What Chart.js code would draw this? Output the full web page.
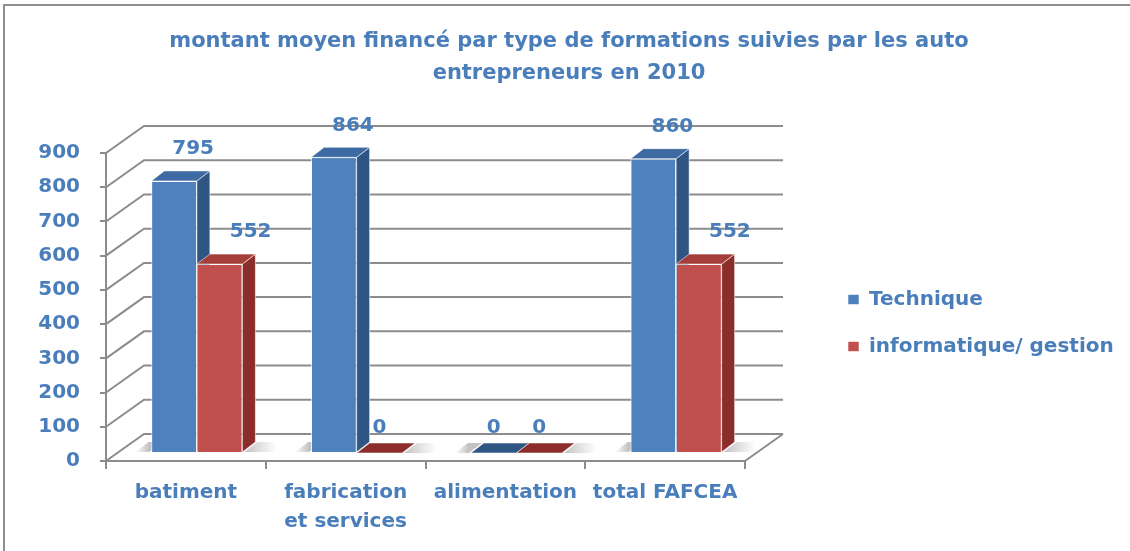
<!DOCTYPE html>
<html>
<head>
<meta charset="utf-8">
<script src="https://cdn.jsdelivr.net/npm/chart.js@4.4.0/dist/chart.umd.min.js"></script>
<style>
    body { margin: 0; background: #fff; }
    #wrap { width: 1130px; height: 551px; position: relative; }
</style>
</head>
<body>
<div id="wrap"><canvas id="chartFormation"></canvas></div>
<script>
const categories = ['batiment', ['fabrication', 'et services'], 'alimentation', 'total FAFCEA']
const technique = [795, 864, 0, 860]
const informatique = [552, 0, 0, 552]
const yTicks = [0, 100, 200, 300, 400, 500, 600, 700, 800, 900]

const textBlue = '#4a7ebb'
const gridGrey = '#8c8c8c'
const palette = [
    { front: '#4f81bd', side: '#2f5584', top: '#3d6aa2' },
    { front: '#c0504d', side: '#8a2d2b', top: '#a53e3b' }
]

// 3d offsets: back wall, plane of the bars, depth of a bar
const back = { x: 38, y: -27 }
const plane = { x: 11, y: -8 }
const depth = { x: 13, y: -10 }

Chart.defaults.font.family = '"DejaVu Sans", sans-serif'

// the right legend gets a quarter of the width left after padding,
// so this puts the front of the plot at x = 745
const padRight = 1130 - 745 * 4 / 3

function poly(ctx, pts, fill) {
    ctx.beginPath()
    ctx.moveTo(pts[0][0], pts[0][1])
    pts.slice(1).forEach(p => ctx.lineTo(p[0], p[1]))
    ctx.closePath()
    ctx.fillStyle = fill
    ctx.fill()
}

function floorShadow(ctx, x0, x1, base) {
    const g = ctx.createLinearGradient(x0, 0, x1, 0)
    g.addColorStop(0, 'rgba(120,120,120,0.45)')
    g.addColorStop(1, 'rgba(120,120,120,0)')
    poly(ctx, [[x0, base], [x0 + depth.x, base + depth.y], [x1 + depth.x, base + depth.y], [x1, base]], g)
}

const plot3d = {
    id: 'plot3d',
    afterLayout(chart) {
        const lg = chart.legend
        lg.left = 821
        lg.right = 1130
        lg.top = 253
        lg.bottom = 393
        const tb = chart.titleBlock
        tb.left = 0
        tb.right = 1138
    },
    beforeDraw(chart) {
        const ctx = chart.ctx
        ctx.save()
        ctx.strokeStyle = '#8f8f8f'
        ctx.lineWidth = 2
        ctx.strokeRect(4, 5, 1200, 700)
        ctx.restore()
    },
    beforeDatasetsDraw(chart) {
        const { ctx, chartArea: a, scales: { y } } = chart
        ctx.save()
        ctx.strokeStyle = gridGrey
        ctx.lineWidth = 2
        ctx.beginPath()
        yTicks.forEach(v => {
            const py = y.getPixelForValue(v)
            ctx.moveTo(a.left, py)
            ctx.lineTo(a.left + back.x, py + back.y)
            ctx.lineTo(a.right + back.x, py + back.y)
        })
        const py0 = y.getPixelForValue(0)
        ctx.moveTo(a.right, py0)
        ctx.lineTo(a.right + back.x, py0 + back.y)
        ctx.stroke()
        ctx.restore()
        ctx.save()
        ctx.translate(plane.x, plane.y)
        // soft shadows on the floor around each pair of bars
        const m0 = chart.getDatasetMeta(0), m1 = chart.getDatasetMeta(1)
        categories.forEach((c, i) => {
            const b0 = m0.data[i], b1 = m1.data[i]
            const l = b0.x - b0.width / 2, r = b1.x + b1.width / 2
            floorShadow(ctx, r + 2, r + 34, b1.base)
            floorShadow(ctx, l - 2, l - 16, b0.base)
        })
    },
    afterDatasetsDraw(chart) {
        const ctx = chart.ctx
        const metas = [chart.getDatasetMeta(0), chart.getDatasetMeta(1)]
        ctx.strokeStyle = 'rgba(255,255,255,0.55)'
        ctx.lineWidth = 1
        categories.forEach((c, i) => {
            metas.forEach((meta, d) => {
                const el = meta.data[i]
                const { x, y, base, width } = el.getProps(['x', 'y', 'base', 'width'], true)
                const l = x - width / 2, r = x + width / 2
                const col = palette[d]
                el.draw(ctx)
                if (base - y > 0.5) {
                    poly(ctx, [[r, base], [r + depth.x, base + depth.y], [r + depth.x, y + depth.y], [r, y]], col.side)
                    ctx.stroke()
                    poly(ctx, [[l, y], [l + depth.x, y + depth.y], [r + depth.x, y + depth.y], [r, y]], col.top)
                    ctx.stroke()
                } else {
                    poly(ctx, [[l, y], [l + depth.x, y + depth.y], [r + depth.x, y + depth.y], [r, y]], col.side)
                    ctx.stroke()
                }
            })
        })
        ctx.font = 'bold 20px "DejaVu Sans"'
        ctx.fillStyle = textBlue
        ctx.textAlign = 'center'
        ctx.textBaseline = 'middle'
        metas.forEach((meta, d) => {
            meta.data.forEach((el, i) => {
                const v = chart.data.datasets[d].data[i]
                const dx = v ? (d ? 31 : 19) : 0
                const dy = v ? -32 : -25
                ctx.fillText(String(v), el.x + dx, el.y + dy)
            })
        })
        ctx.restore()
    }
}

new Chart(document.getElementById('chartFormation'), {
    type: 'bar',
    data: {
        labels: categories,
        datasets: [{
            label: 'Technique',
            data: technique,
            backgroundColor: palette[0].front,
            borderColor: 'rgba(255,255,255,0.55)',
            borderWidth: 1,
            clip: false
        }, {
            label: 'informatique/ gestion',
            data: informatique,
            backgroundColor: palette[1].front,
            borderColor: 'rgba(255,255,255,0.55)',
            borderWidth: 1,
            clip: false
        }]
    },
    options: {
        responsive: true,
        maintainAspectRatio: false,
        animation: false,
        layout: { padding: { left: 0, top: 0, right: padRight, bottom: 0 } },
        datasets: { bar: { barPercentage: 1, categoryPercentage: 0.57 } },
        plugins: {
            title: {
                display: true,
                text: ['montant moyen financé par type de formations suivies par les auto', 'entrepreneurs en 2010'],
                color: textBlue,
                font: { size: 21, weight: 'bold', lineHeight: '32px' },
                padding: { top: 26, bottom: 63 }
            },
            legend: {
                position: 'right',
                labels: {
                    boxWidth: 11,
                    boxHeight: 10,
                    padding: 27,
                    color: textBlue,
                    font: { size: 20, weight: 'bold' },
                    sort: (a, b) => a.datasetIndex - b.datasetIndex
                }
            },
            tooltip: { enabled: false }
        },
        scales: {
            x: {
                grid: { display: true, drawOnChartArea: false, drawTicks: true, tickLength: 8, color: gridGrey, lineWidth: 2 },
                border: { display: true, color: gridGrey, width: 2 },
                ticks: { color: textBlue, padding: 9.5, maxRotation: 0, font: { size: 20, weight: 'bold', lineHeight: 1.45 } },
                afterFit: s => { s.height = 90 }
            },
            y: {
                min: yTicks[0],
                max: yTicks[yTicks.length - 1],
                afterBuildTicks: s => { s.ticks = yTicks.map(v => ({ value: v })) },
                grid: { display: true, drawOnChartArea: false, drawTicks: true, tickLength: 6, color: gridGrey, lineWidth: 2 },
                border: { display: true, color: gridGrey, width: 2 },
                ticks: { color: textBlue, padding: 20, font: { size: 20, weight: 'bold' } },
                afterFit: s => { s.width = 106 }
            }
        }
    },
    plugins: [plot3d]
})
</script>
</body>
</html>
